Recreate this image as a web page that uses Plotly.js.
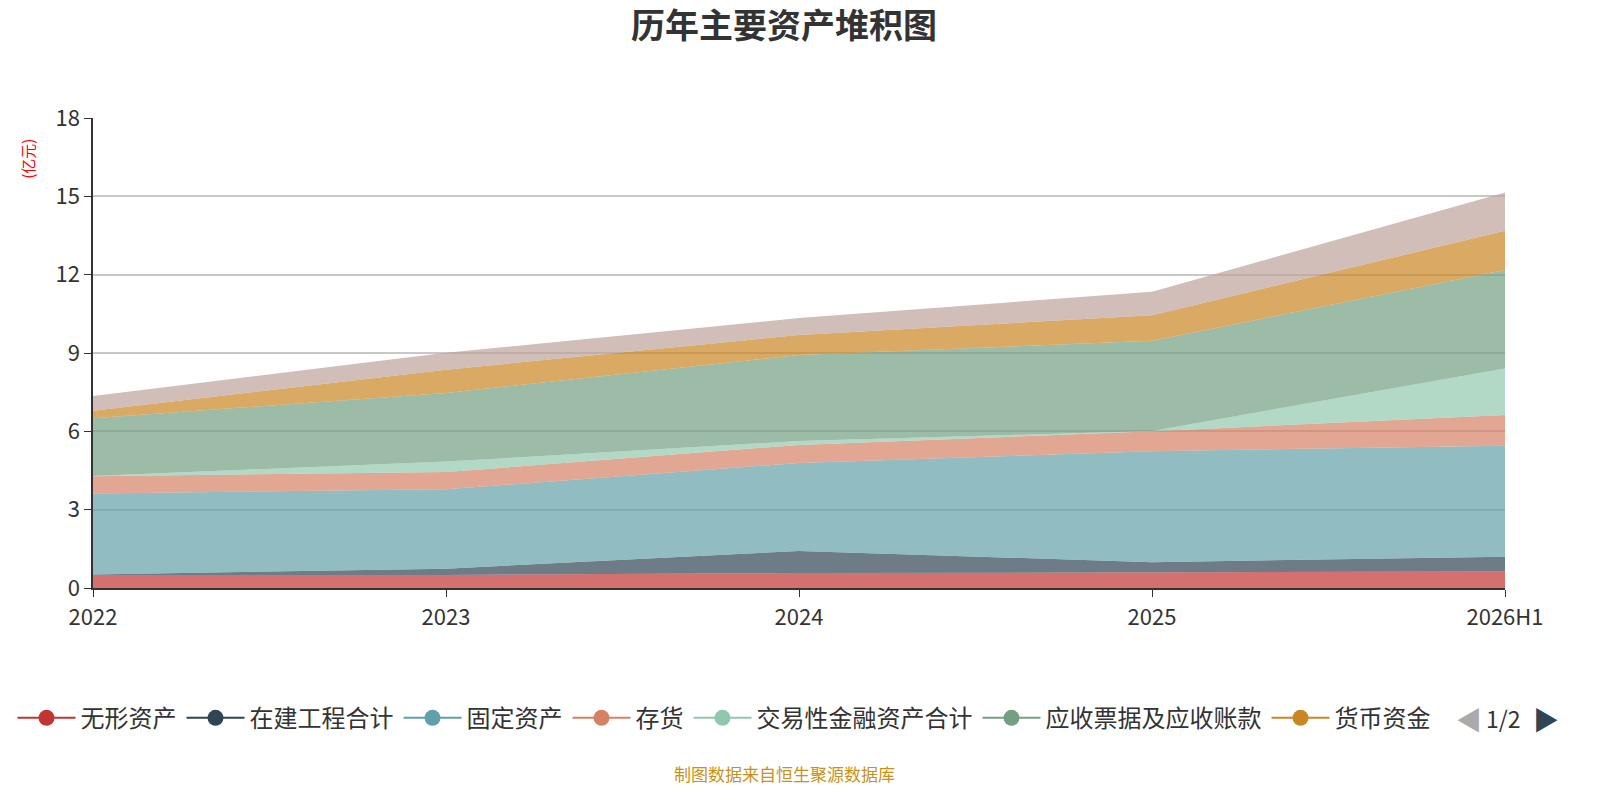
<!DOCTYPE html>
<html><head><meta charset="utf-8">
<script src="https://cdn.plot.ly/plotly-3.0.1.min.js"></script>
<style>body{margin:0;background:#fff}#chart{width:1600px;height:800px}</style>
</head><body><div id="chart"></div>
<script>
const years = ['2022','2023','2024','2025','2026H1'];
const seriesNames = ['无形资产','在建工程合计','固定资产','存货','交易性金融资产合计','应收票据及应收账款','货币资金','其他'];
const wuxing    = [0.50, 0.50, 0.57, 0.60, 0.63];
const zaijian   = [0.02, 0.24, 0.85, 0.39, 0.57];
const guding    = [3.10, 3.04, 3.37, 4.25, 4.25];
const cunhuo    = [0.66, 0.66, 0.69, 0.76, 1.18];
const jiaoyi    = [0.01, 0.40, 0.15, 0.01, 1.78];
const yingshou  = [2.21, 2.63, 3.29, 3.46, 3.77];
const huobi     = [0.29, 0.89, 0.77, 0.98, 1.50];
const qita      = [0.56, 0.65, 0.65, 0.90, 1.47];
const seriesValues = [wuxing, zaijian, guding, cunhuo, jiaoyi, yingshou, huobi, qita];
const colors = ['#c23531','#2f4554','#61a0a8','#d48265','#91c7ae','#749f83','#ca8622','#bda29a'];
const yTicks = [0,3,6,9,12,15,18];

function rgba(hex, a){
  const n = parseInt(hex.slice(1),16);
  return `rgba(${n>>16},${(n>>8)&255},${n&255},${a})`;
}

const traces = [];
seriesValues.forEach((vals,i)=>{
  traces.push({
    type:'scatter', x:years, y:vals, name:seriesNames[i],
    stackgroup:'one', mode:'lines', line:{width:0, color:colors[i]},
    fillcolor: rgba(colors[i],0.7), showlegend:false, hoverinfo:'x+y+name'
  });
});
for(let i=0;i<7;i++){
  traces.push({
    type:'scatter', x:[null], y:[null], name:seriesNames[i],
    mode:'lines+markers', line:{width:2,color:colors[i]},
    marker:{size:16,color:colors[i]}, showlegend:true, hoverinfo:'skip'
  });
}

const layout = {
  width:1600, height:800,
  paper_bgcolor:'#fff', plot_bgcolor:'#fff',
  margin:{l:91, r:95, t:118, b:212},
  font:{family:'"Noto Sans CJK SC","Noto Sans",sans-serif', color:'#333'},
  title:{text:'<b>历年主要资产堆积图</b>', x:0.49, xanchor:'center', y:0.968, yanchor:'middle',
         font:{size:34, color:'#333'}},
  xaxis:{type:'category', range:[0,4], showgrid:false, showline:true, linecolor:'#333', linewidth:1.5,
         ticks:'outside', ticklen:7, tickcolor:'#333', tickfont:{size:22, color:'#333'}, zeroline:false,
         ticklabelstandoff:2},
  yaxis:{range:[0,18], tickvals:yTicks, showgrid:true, gridcolor:'#c8c8c8', gridwidth:1.5,
         showline:true, linecolor:'#333', linewidth:1.5, ticks:'outside', ticklen:7, tickcolor:'#333',
         tickfont:{size:22, color:'#333'}, zeroline:false, automargin:false},
  showlegend:true,
  legend:{orientation:'h', x:-0.057, xanchor:'left', y:-0.277, yanchor:'middle',
          font:{size:24, color:'#333'}, itemwidth:58, traceorder:'normal'},
  annotations:[
    {text:'(亿元)', xref:'paper', yref:'paper', x:-0.046, y:0.96, xanchor:'center', textangle:-90, showarrow:false,
     font:{size:15, color:'#ff0000'}},
    {text:'制图数据来自恒生聚源数据库', xref:'paper', yref:'paper', x:0.49, y:-0.394, yanchor:'middle', showarrow:false,
     font:{size:17, color:'#c8921a'}},
    {text:'◀', xref:'paper', yref:'paper', x:0.985, y:-0.277, yanchor:'middle', showarrow:false, font:{size:26, color:'#aaaaaa'}},
    {text:'1/2', xref:'paper', yref:'paper', x:1.013, y:-0.277, yanchor:'middle', showarrow:false, font:{size:23, color:'#333'}},
    {text:'▶', xref:'paper', yref:'paper', x:1.040, y:-0.277, yanchor:'middle', showarrow:false, font:{size:26, color:'#2f4554'}}
  ]
};
Plotly.newPlot('chart', traces, layout, {displayModeBar:false});
</script></body></html>
